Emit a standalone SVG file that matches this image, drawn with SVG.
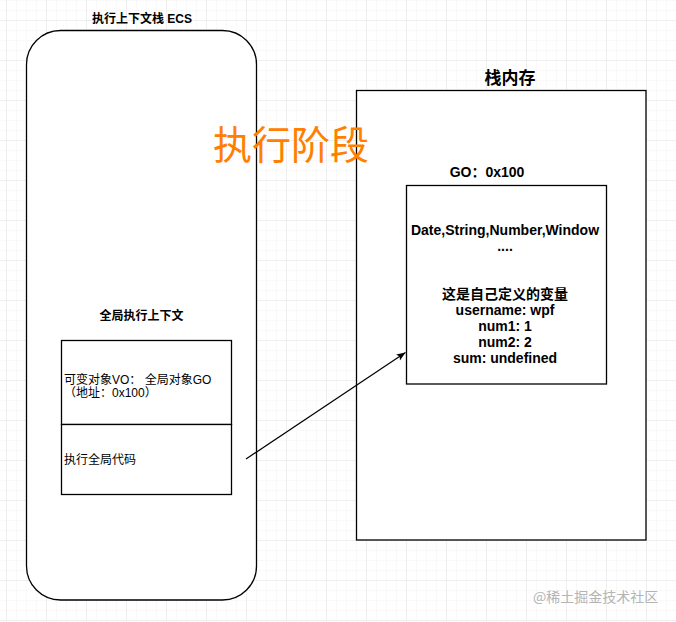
<svg xmlns="http://www.w3.org/2000/svg" width="676" height="622" viewBox="0 0 676 622">
<defs>
<pattern id="minor" width="10" height="10" patternUnits="userSpaceOnUse" x="6" y="0">
<path d="M0 0H10M0 0V10" fill="none" stroke="#f3f3f3" stroke-width="1"/>
</pattern>
<pattern id="major" width="40" height="40" patternUnits="userSpaceOnUse" x="6" y="20">
<path d="M0 0H40M0 0V40" fill="none" stroke="#e6e6e6" stroke-width="1"/>
</pattern>
<marker id="arrow" markerWidth="10" markerHeight="10" refX="9" refY="5" orient="auto" markerUnits="userSpaceOnUse">
<path d="M0,1.5 L9,5 L0,8.5 L2,5 Z" fill="#000"/>
</marker>
<style>
.box{fill:#fff;stroke:#000;stroke-width:1.3}
.t{font-family:"Liberation Sans","Noto Sans CJK SC",sans-serif;fill:#000}
.b{font-weight:bold}
.c{text-anchor:middle}
</style>
</defs>
<rect width="676" height="622" fill="#fff"/>
<rect width="676" height="622" fill="url(#minor)"/>
<rect width="676" height="622" fill="url(#major)"/>

<g id="ecs">
<rect class="box" x="26.5" y="30.5" width="230" height="569.5" rx="34" ry="34"/>
<text class="t b c" x="142" y="23" font-size="12">执行上下文栈 ECS</text>
</g>

<g id="global-context">
<text class="t b c" x="141.5" y="320" font-size="12">全局执行上下文</text>
<rect class="box" x="61.5" y="340.5" width="170" height="84"/>
<rect class="box" x="61.5" y="424.5" width="170" height="70"/>
<text class="t" x="64" y="383.5" font-size="12">可变对象VO： 全局对象GO</text>
<text class="t" x="64" y="397" font-size="12">（地址：0x100）</text>
<text class="t" x="64" y="463.5" font-size="12">执行全局代码</text>
</g>

<g id="stack-memory">
<rect class="box" x="356.5" y="90.5" width="289.5" height="449.5"/>
<text class="t b c" x="510" y="84" font-size="17">栈内存</text>
</g>

<g id="go">
<text class="t b c" x="487" y="177" font-size="14">GO：0x100</text>
<rect class="box" x="406.5" y="185.5" width="200" height="198.5"/>
<text class="t b c" x="505" y="235" font-size="14">Date,String,Number,Window</text>
<text class="t b c" x="505" y="251" font-size="14">....</text>
<text class="t b c" x="505" y="299" font-size="14">这是自己定义的变量</text>
<text class="t b c" x="505" y="315" font-size="14">username: wpf</text>
<text class="t b c" x="505" y="331" font-size="14">num1: 1</text>
<text class="t b c" x="505" y="347" font-size="14">num2: 2</text>
<text class="t b c" x="505" y="363" font-size="14">sum: undefined</text>
</g>

<g id="phase-label">
<text class="t c" x="291" y="159" font-size="39" style="fill:#ff8000">执行阶段</text>
</g>

<g id="connectors">
<line x1="246" y1="459" x2="405.5" y2="352.5" stroke="#000" stroke-width="1.2" marker-end="url(#arrow)"/>
</g>

<text x="533" y="602" font-size="14" style="font-family:'Noto Sans CJK SC',sans-serif;fill:#b4b4b4">@稀土掘金技术社区</text>
</svg>
